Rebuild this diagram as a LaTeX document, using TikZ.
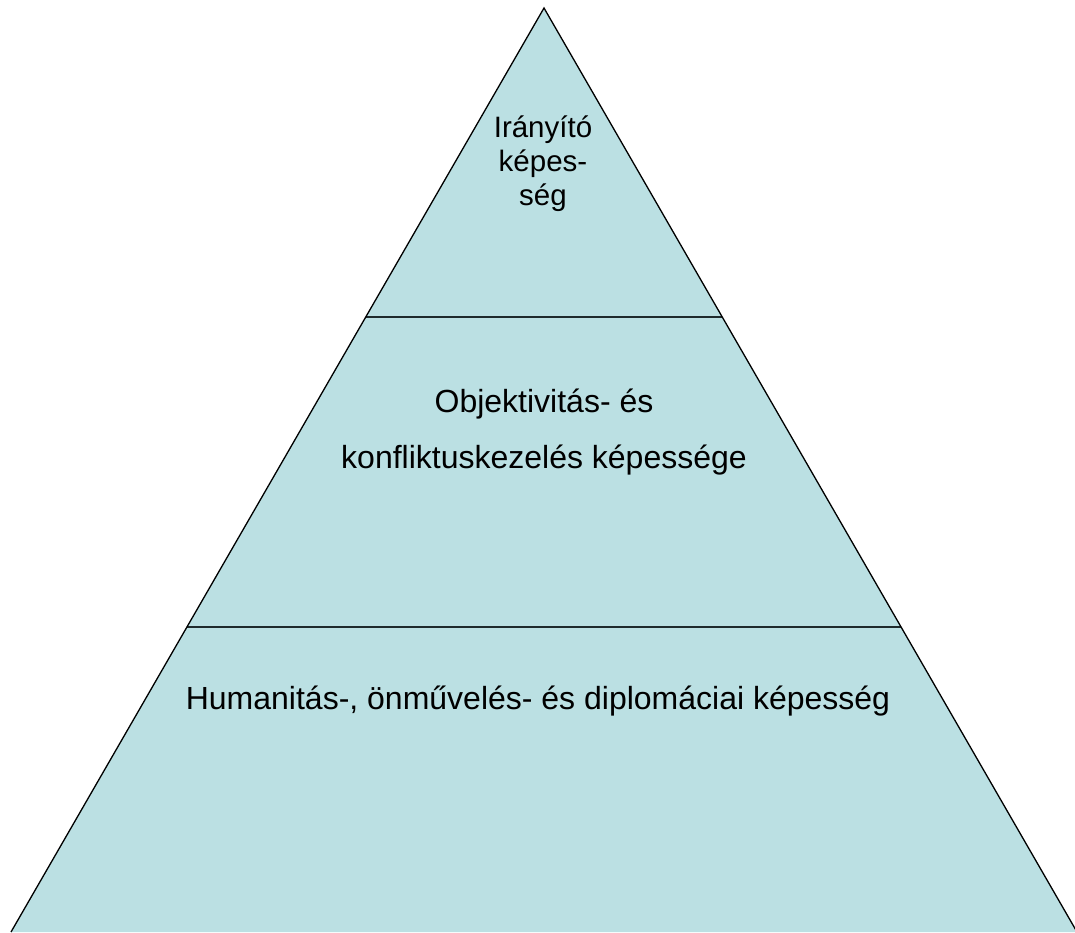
\documentclass[tikz,border=0pt]{standalone}
\usepackage{fontspec}
\setmainfont{Liberation Sans}
\definecolor{tierfill}{HTML}{BBE0E3}
\definecolor{tierline}{HTML}{1E2A2C}
\begin{document}
\begin{tikzpicture}[x=1pt,y=-1pt,
  outline/.style={draw=black,line width=1.3pt,line join=miter},
  divider/.style={draw=tierline,line width=1.8pt},
  label/.style={anchor=base,inner sep=0pt,font=\fontsize{32}{36}\selectfont},
  toplabel/.style={anchor=base,inner sep=0pt,font=\fontsize{29.5}{34}\selectfont}]
  \useasboundingbox (0,0) rectangle (1075,932);
  % corners of the pyramid
  \coordinate (apex) at (544,8);
  \coordinate (bl) at (11,932);
  \coordinate (br) at (1077,932);
  % tier boundaries
  \coordinate (l1) at (366,317);
  \coordinate (r1) at (722,317);
  \coordinate (l2) at (187,627);
  \coordinate (r2) at (901,627);
  \fill[tierfill] (apex) -- (bl) -- (br) -- cycle;
  \draw[divider] (l1) -- (r1);
  \draw[divider] (l2) -- (r2);
  \draw[outline] (bl) -- (apex) -- (br);
  % top tier
  \node[toplabel] (t1) at (543,137) {Irányító};
  \node[toplabel] (t2) at (543,171) {képes-};
  \node[toplabel] (t3) at (543,205) {ség};
  % middle tier
  \node[label] (m1) at (544,412) {Objektivitás- és};
  \node[label] (m2) at (544,468) {konfliktuskezelés képessége};
  % bottom tier
  \node[label] (b1) at (538,709) {Humanitás-, önművelés- és diplomáciai képesség};
\end{tikzpicture}
\end{document}
